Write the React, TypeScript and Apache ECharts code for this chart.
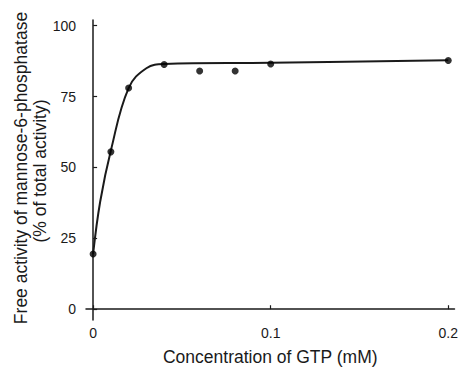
import React, { useEffect, useRef } from "react";
import * as echarts from "echarts";

const pointX = [0, 0.01, 0.02, 0.04, 0.06, 0.08, 0.1, 0.2];
const pointY = [19.5, 55.5, 78, 86.3, 84, 84, 86.5, 87.7];

const curveX = [0, 0.004, 0.01, 0.02, 0.03, 0.04, 0.1, 0.2];
const curveY = [19.5, 38, 56, 78, 85, 86.5, 86.9, 87.8];

const xTicks = [0, 0.1, 0.2];
const yTicks = [0, 25, 50, 75, 100];

const xName = "Concentration of GTP (mM)";
const yName1 = "Free activity of mannose-6-phosphatase";
const yName2 = "(% of total activity)";

export default function App() {
  const ref = useRef<HTMLDivElement>(null);
  useEffect(() => {
    if (!ref.current) return;
    const chart = echarts.init(ref.current, null, { renderer: "svg" });
    const font = "Liberation Sans, Arial, sans-serif";
    const ink = "#1a1a1a";
    chart.setOption({
      animation: false,
      backgroundColor: "#ffffff",
      grid: { left: 86, right: 6, top: 20, bottom: 48 },
      xAxis: {
        type: "value",
        min: -0.004,
        max: 0.2035,
        splitLine: { show: false },
        axisLine: { lineStyle: { color: ink, width: 1.5 } },
        axisTick: { inside: true, length: 4, customValues: xTicks, lineStyle: { color: ink, width: 1.2 } },
        axisLabel: {
          customValues: xTicks,
          formatter: (v: number) => String(v),
          color: ink,
          fontSize: 14,
          fontFamily: font,
          margin: 6,
        },
        name: xName,
        nameLocation: "middle",
        nameGap: 28,
        nameTextStyle: { color: ink, fontSize: 17.5, fontFamily: font },
      },
      yAxis: {
        type: "value",
        min: -3.8,
        max: 102,
        splitLine: { show: false },
        axisLine: { lineStyle: { color: ink, width: 1.5 } },
        axisTick: { inside: true, length: 4, customValues: yTicks, lineStyle: { color: ink, width: 1.2 } },
        axisLabel: {
          customValues: yTicks,
          color: ink,
          fontSize: 14,
          fontFamily: font,
          margin: 10,
        },
      },
      graphic: [
        {
          type: "text",
          x: 21,
          y: 168,
          rotation: Math.PI / 2,
          style: {
            text: yName1,
            fill: ink,
            fontSize: 17.5,
            fontFamily: font,
            align: "center",
            verticalAlign: "middle",
          },
        },
        {
          type: "text",
          x: 40,
          y: 171,
          rotation: Math.PI / 2,
          style: {
            text: yName2,
            fill: ink,
            fontSize: 17.5,
            fontFamily: font,
            align: "center",
            verticalAlign: "middle",
          },
        },
      ],
      series: [
        {
          type: "line",
          smooth: 0.4,
          symbol: "none",
          data: curveX.map((x, i) => [x, curveY[i]]),
          lineStyle: { color: ink, width: 2 },
          z: 2,
        },
        {
          type: "scatter",
          symbol: "circle",
          symbolSize: 7,
          data: pointX.map((x, i) => [x, pointY[i]]),
          itemStyle: { color: "#000" },
          z: 3,
        },
      ],
    });
    return () => chart.dispose();
  }, []);
  return <div ref={ref} style={{ width: 461, height: 371, position: "absolute", left: 0, top: 0 }} />;
}
